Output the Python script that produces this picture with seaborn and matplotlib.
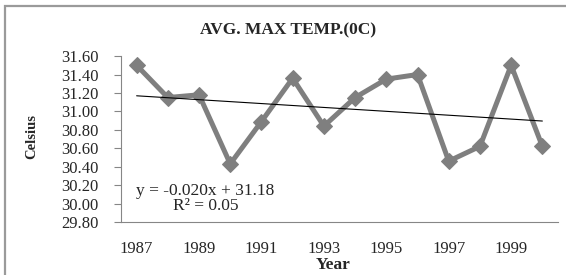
import numpy as np
import pandas as pd
import matplotlib
matplotlib.use("Agg")
import matplotlib.pyplot as plt
import seaborn as sns
from matplotlib.patches import Rectangle

# Data
years = [1987, 1988, 1989, 1990, 1991, 1992, 1993, 1994, 1995, 1996, 1997, 1998, 1999, 2000]
max_temp = [31.50, 31.15, 31.18, 30.43, 30.89, 31.36, 30.84, 31.15, 31.35, 31.40, 30.46, 30.62, 31.50, 30.62]
year_labels = [1987, 1989, 1991, 1993, 1995, 1997, 1999]
y_ticks = [29.8, 30.0, 30.2, 30.4, 30.6, 30.8, 31.0, 31.2, 31.4, 31.6]
title = "AVG. MAX TEMP.(0C)"
eq_text = "y = -0.020x + 31.18\nR² = 0.05"

df = pd.DataFrame({"Year": years, "Temp": max_temp})

sns.set_style("white")
plt.rcParams["font.family"] = ["Liberation Serif", "DejaVu Serif"]

fig = plt.figure(figsize=(5.66, 2.75), dpi=100)
ax = fig.add_axes([0.2138, 0.193, 0.772, 0.603])

# Main series
sns.lineplot(data=df, x="Year", y="Temp", ax=ax, color="#7f7f7f", linewidth=3.6,
             marker="D", markersize=8.5, markeredgecolor="#7f7f7f", markerfacecolor="#7f7f7f")

# Linear trend line (Excel-style, x = 1..n)
xi = np.arange(1, len(years) + 1)
slope, intercept = np.polyfit(xi, max_temp, 1)
trend = slope * xi + intercept
sns.lineplot(x=years, y=trend, ax=ax, color="black", linewidth=0.8)

# Axes styling
ax.set_xlim(years[0] - 0.5, years[-1] + 0.5)
ax.set_ylim(29.8, 31.6)
ax.set_yticks(y_ticks)
ax.set_yticklabels([f"{v:.2f}" for v in y_ticks], fontsize=12)
ax.set_xticks(year_labels)
ax.set_xticklabels([str(y) for y in year_labels], fontsize=12)
ax.set_xticks(np.arange(years[0] - 0.5, years[-1] + 1.0, 1.0), minor=True)
ax.tick_params(axis="x", which="major", length=0, pad=14)
ax.tick_params(axis="x", which="minor", length=4, direction="out", color="#868686", width=0.8)
ax.tick_params(axis="y", length=5, direction="out", color="#868686", width=0.8, pad=11, left=True)
for side in ["top", "right"]:
    ax.spines[side].set_visible(False)
for side in ["left", "bottom"]:
    ax.spines[side].set_color("#868686")
    ax.spines[side].set_linewidth(0.8)
ax.set_xlabel("")
ax.set_ylabel("")

ax.text(0.193, 0.14, eq_text, transform=ax.transAxes, ha="center", va="center",
        fontsize=12.5, linespacing=0.9)

fig.text(0.509, 0.891, title, ha="center", va="center", fontsize=12.5, fontweight="bold")
fig.text(0.0565, 0.502, "Celsius", ha="center", va="center", rotation=90,
         fontsize=10.5, fontweight="bold")
fig.text(0.588, 0.036, "Year", ha="center", va="center", fontsize=12.5, fontweight="bold")

# Outer chart border
fig.patches.append(Rectangle((5 / 566, -0.05), 1.1, 1.05 - 6 / 275, transform=fig.transFigure,
                             fill=False, edgecolor="#9a9a9a", linewidth=1.6))

fig.savefig("out.png", dpi=100)
